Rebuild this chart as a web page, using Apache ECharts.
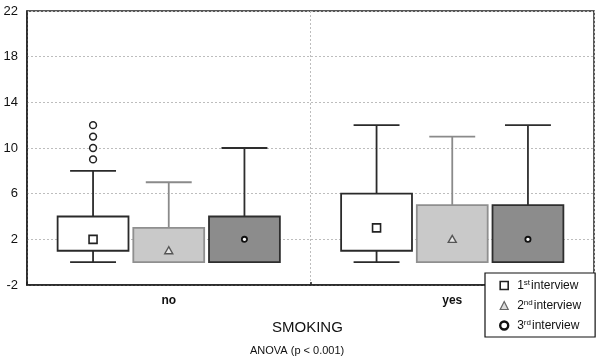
<!DOCTYPE html>
<html>
<head>
<meta charset="utf-8">
<script src="https://cdn.jsdelivr.net/npm/echarts@6/dist/echarts.min.js"></script>
<style>
  html, body { margin: 0; padding: 0; background: #fff; }
  #chart { width: 600px; height: 362px; }
</style>
</head>
<body>
<div id="chart"></div>
<script>
// categories on the x axis
var categories = ['no', 'yes'];
// y axis ticks
var yMin = -2;
var yMax = 22;
var yStep = 4;
// each row: [min whisker, q1, q3, max whisker, central marker]
var interview1 = [[0, 1, 4, 8, 2], [0, 1, 6, 12, 3]];
var interview2 = [[0, 0, 3, 7, 1], [0, 0, 5, 11, 2]];
var interview3 = [[0, 0, 4, 10, 2], [0, 0, 5, 12, 2]];
// outliers of the 1st interview, smoking = no
var outliers1 = [9, 10, 11, 12];
var legendNames = ['1st interview', '2nd interview', '3rd interview'];

// look of each box (slot = place inside the category band)
var looks = [
  { slot: -0.267, fill: '#ffffff', border: '#2a2a2a', whisker: '#2a2a2a', marker: 'square' },
  { slot: 0, fill: '#c9c9c9', border: '#8f8f8f', whisker: '#8a8a8a', marker: 'triangle' },
  { slot: 0.267, fill: '#8c8c8c', border: '#2e2e2e', whisker: '#2e2e2e', marker: 'circle' }
];

function toRows(list) {
  return list.map(function (r, i) {
    return [i].concat(r);
  });
}

function markerShape(kind, x, y) {
  if (kind === 'square') {
    return { type: 'rect', shape: { x: x - 4, y: y - 4, width: 8, height: 8 },
      style: { fill: '#fff', stroke: '#222', lineWidth: 1.6 } };
  }
  if (kind === 'triangle') {
    return { type: 'polygon', shape: { points: [[x, y - 4], [x - 4, y + 3], [x + 4, y + 3]] },
      style: { fill: '#e6e6e6', stroke: '#555', lineWidth: 1.4 } };
  }
  return { type: 'circle', shape: { cx: x, cy: y, r: 2.6 },
    style: { fill: '#fff', stroke: '#111', lineWidth: 1.8 } };
}

function makeBox(look) {
  return function (params, api) {
    var cat = api.value(0);
    var band = api.size([1, 0])[0];
    var cx = api.coord([cat, 0])[0] + look.slot * band;
    var half = band * 0.125;
    var cap = band * 0.081;
    var yLo = api.coord([cat, api.value(1)])[1];
    var yQ1 = api.coord([cat, api.value(2)])[1];
    var yQ3 = api.coord([cat, api.value(3)])[1];
    var yHi = api.coord([cat, api.value(4)])[1];
    var yMid = api.coord([cat, api.value(5)])[1];
    var ls = { stroke: look.whisker, lineWidth: 1.8 };
    return {
      type: 'group',
      children: [
        { type: 'line', shape: { x1: cx, y1: yHi, x2: cx, y2: yQ3 }, style: ls },
        { type: 'line', shape: { x1: cx, y1: yLo, x2: cx, y2: yQ1 }, style: ls },
        { type: 'line', shape: { x1: cx - cap, y1: yHi, x2: cx + cap, y2: yHi }, style: ls },
        { type: 'line', shape: { x1: cx - cap, y1: yLo, x2: cx + cap, y2: yLo }, style: ls },
        { type: 'rect', shape: { x: cx - half, y: yQ3, width: half * 2, height: yQ1 - yQ3 },
          style: { fill: look.fill, stroke: look.border, lineWidth: 1.8 } },
        markerShape(look.marker, cx, yMid)
      ]
    };
  };
}

function makeOutliers(look) {
  return function (params, api) {
    var cat = api.value(0);
    var band = api.size([1, 0])[0];
    var cx = api.coord([cat, 0])[0] + look.slot * band;
    var y = api.coord([cat, api.value(1)])[1];
    return { type: 'circle', shape: { cx: cx, cy: y, r: 3.4 },
      style: { fill: '#fff', stroke: '#222', lineWidth: 1.5 } };
  };
}

var legendIcons = [
  { icon: 'rect', itemStyle: { color: '#fff', borderColor: '#222', borderWidth: 1.6 } },
  { icon: 'triangle', itemStyle: { color: '#dcdcdc', borderColor: '#666', borderWidth: 1.2 } },
  { icon: 'circle', itemStyle: { color: '#fff', borderColor: '#111', borderWidth: 2.4 } }
];

var allData = [interview1, interview2, interview3];
var series = allData.map(function (d, i) {
  return {
    name: legendNames[i],
    type: 'custom',
    renderItem: makeBox(looks[i]),
    data: toRows(d),
    encode: { x: 0, y: [1, 2, 3, 4, 5] },
    z: 3
  };
});
series.push({
  type: 'custom',
  renderItem: makeOutliers(looks[0]),
  data: outliers1.map(function (v) { return [0, v]; }),
  encode: { x: 0, y: 1 },
  z: 4
});

var chart = echarts.init(document.getElementById('chart'));
chart.setOption({
  animation: false,
  textStyle: { fontFamily: 'Liberation Sans, Arial, sans-serif' },
  grid: {
    left: 27, right: 6, top: 11, bottom: 77,
    show: true, borderColor: '#222', borderWidth: 1.5, backgroundColor: 'transparent'
  },
  legend: {
    orient: 'vertical',
    left: 485, top: 273,
    padding: [6, 14, 5, 14],
    itemGap: 7,
    itemWidth: 8, itemHeight: 8,
    backgroundColor: '#fff',
    borderColor: '#111', borderWidth: 1.2,
    borderRadius: 0,
    data: legendNames.map(function (n, i) {
      return Object.assign({ name: n }, legendIcons[i]);
    }),
    formatter: function (name) {
      var m = name.match(/^(\d)(\w+)\s(.*)$/);
      return '{n|' + m[1] + '}{s|' + m[2] + '}{t|' + m[3] + '}';
    },
    textStyle: {
      color: '#111',
      padding: [0, 0, 0, 4],
      rich: {
        n: { fontSize: 12, color: '#111', verticalAlign: 'bottom', lineHeight: 13 },
        s: { fontSize: 8, color: '#111', verticalAlign: 'top', padding: [0, 1, 5, 0], lineHeight: 13 },
        t: { fontSize: 12, color: '#111', verticalAlign: 'bottom', lineHeight: 13 }
      }
    }
  },
  xAxis: {
    type: 'category',
    data: categories,
    boundaryGap: true,
    axisLine: { onZero: false, lineStyle: { color: '#222', width: 1.5 } },
    axisTick: { show: true, inside: true, length: 3, lineStyle: { color: '#222', width: 1.5 } },
    axisLabel: { color: '#111', fontSize: 12, fontWeight: 'bold', margin: 10 },
    splitLine: { show: true, lineStyle: { color: '#bdbdbd', type: [2, 2], width: 1 } }
  },
  yAxis: {
    type: 'value',
    min: yMin, max: yMax, interval: yStep,
    axisLine: { show: true, lineStyle: { color: '#222', width: 1.5 } },
    axisTick: { show: false },
    axisLabel: { color: '#111', fontSize: 13, margin: 9 },
    splitLine: { show: true, lineStyle: { color: '#bdbdbd', type: [2, 2], width: 1 } }
  },
  graphic: [
    { type: 'text', left: 272, top: 320,
      style: { text: 'SMOKING', fontSize: 15, fill: '#111', fontFamily: 'Liberation Sans, Arial, sans-serif' } },
    { type: 'text', left: 250, top: 345,
      style: { text: 'ANOVA (p < 0.001)', fontSize: 11, fill: '#111', fontFamily: 'Liberation Sans, Arial, sans-serif' } }
  ],
  series: series
});
</script>
</body>
</html>
